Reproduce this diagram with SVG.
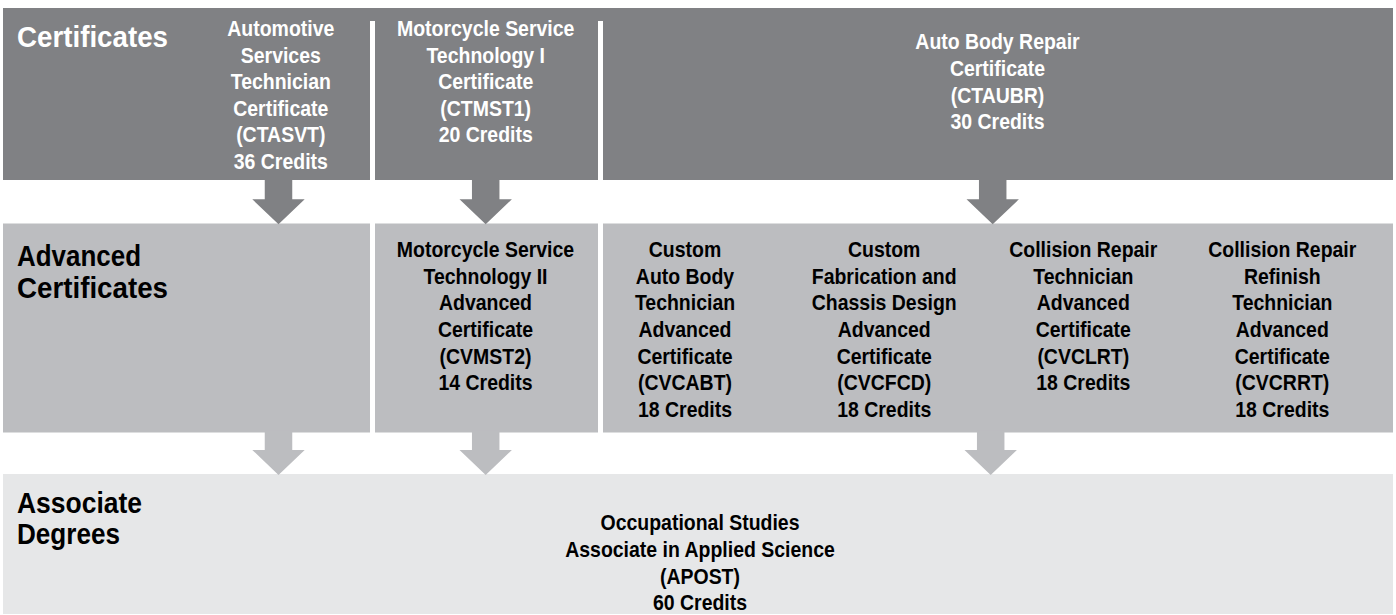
<svg xmlns="http://www.w3.org/2000/svg" xmlns:xlink="http://www.w3.org/1999/xlink" width="1396" height="615" viewBox="0 0 1396 615">
<style>
.dark{fill:#808184}
.mid{fill:#bcbdc0}
.light{fill:#e6e7e8}
.sep{fill:#ffffff}
.h{font-family:"Liberation Sans",Arial,sans-serif;font-weight:bold;font-size:29px}
.n{font-family:"Liberation Sans",Arial,sans-serif;font-weight:bold;font-size:21.5px;text-anchor:middle}
.w{fill:#ffffff}
.k{fill:#000000}
</style>
<defs>
<path id="arrow" d="M-13.75,0 H13.75 V19.3 H26.2 L0,44.3 L-26.2,19.3 H-13.75 Z"/>
</defs>
<rect width="1396" height="615" fill="#ffffff"/>
<g id="bands">
<rect class="dark" x="3" y="8" width="1390" height="172"/>
<rect class="sep" x="370" y="21" width="5" height="159"/>
<rect class="sep" x="598" y="21" width="5" height="159"/>
<rect class="mid" x="3" y="223.5" width="367" height="209"/>
<rect class="mid" x="375" y="223.5" width="223" height="209"/>
<rect class="mid" x="603" y="223.5" width="790" height="209"/>
<rect class="light" x="3" y="474" width="1390" height="140"/>
</g>
<g id="headings">
<text class="h w" x="17" y="47" textLength="151" lengthAdjust="spacingAndGlyphs">Certificates</text>
<text class="h k" x="17" y="266" textLength="124" lengthAdjust="spacingAndGlyphs">Advanced</text>
<text class="h k" x="17" y="298" textLength="151" lengthAdjust="spacingAndGlyphs">Certificates</text>
<text class="h k" x="17" y="513" textLength="125" lengthAdjust="spacingAndGlyphs">Associate</text>
<text class="h k" x="17" y="544" textLength="103" lengthAdjust="spacingAndGlyphs">Degrees</text>
</g>
<g id="connectors">
<use xlink:href="#arrow" class="dark" x="278.5" y="180"/>
<use xlink:href="#arrow" class="dark" x="485.7" y="180"/>
<use xlink:href="#arrow" class="dark" x="992.7" y="180"/>
<use xlink:href="#arrow" class="mid" x="278.5" y="430.7"/>
<use xlink:href="#arrow" class="mid" x="485.7" y="430.7"/>
<use xlink:href="#arrow" class="mid" x="990.7" y="430.7"/>
</g>
<g id="ctasvt">
<text class="n w" transform="translate(280.8,0) scale(0.905,1)"><tspan x="0" y="36">Automotive</tspan><tspan x="0" y="62.6">Services</tspan><tspan x="0" y="89.2">Technician</tspan><tspan x="0" y="115.8">Certificate</tspan><tspan x="0" y="142.4">(CTASVT)</tspan><tspan x="0" y="169">36 Credits</tspan></text>
</g>
<g id="ctmst1">
<text class="n w" transform="translate(485.7,0) scale(0.905,1)"><tspan x="0" y="36">Motorcycle Service</tspan><tspan x="0" y="62.6">Technology I</tspan><tspan x="0" y="89.2">Certificate</tspan><tspan x="0" y="115.8">(CTMST1)</tspan><tspan x="0" y="142.4">20 Credits</tspan></text>
</g>
<g id="ctaubr">
<text class="n w" transform="translate(997.5,0) scale(0.905,1)"><tspan x="0" y="49.5">Auto Body Repair</tspan><tspan x="0" y="76.1">Certificate</tspan><tspan x="0" y="102.7">(CTAUBR)</tspan><tspan x="0" y="129.3">30 Credits</tspan></text>
</g>
<g id="cvmst2">
<text class="n k" transform="translate(485.5,0) scale(0.905,1)"><tspan x="0" y="257.3">Motorcycle Service</tspan><tspan x="0" y="283.9">Technology II</tspan><tspan x="0" y="310.5">Advanced</tspan><tspan x="0" y="337.1">Certificate</tspan><tspan x="0" y="363.7">(CVMST2)</tspan><tspan x="0" y="390.3">14 Credits</tspan></text>
</g>
<g id="cvcabt">
<text class="n k" transform="translate(685,0) scale(0.905,1)"><tspan x="0" y="257.3">Custom</tspan><tspan x="0" y="283.9">Auto Body</tspan><tspan x="0" y="310.5">Technician</tspan><tspan x="0" y="337.1">Advanced</tspan><tspan x="0" y="363.7">Certificate</tspan><tspan x="0" y="390.3">(CVCABT)</tspan><tspan x="0" y="416.9">18 Credits</tspan></text>
</g>
<g id="cvcfcd">
<text class="n k" transform="translate(884.2,0) scale(0.905,1)"><tspan x="0" y="257.3">Custom</tspan><tspan x="0" y="283.9">Fabrication and</tspan><tspan x="0" y="310.5">Chassis Design</tspan><tspan x="0" y="337.1">Advanced</tspan><tspan x="0" y="363.7">Certificate</tspan><tspan x="0" y="390.3">(CVCFCD)</tspan><tspan x="0" y="416.9">18 Credits</tspan></text>
</g>
<g id="cvclrt">
<text class="n k" transform="translate(1083.3,0) scale(0.905,1)"><tspan x="0" y="257.3">Collision Repair</tspan><tspan x="0" y="283.9">Technician</tspan><tspan x="0" y="310.5">Advanced</tspan><tspan x="0" y="337.1">Certificate</tspan><tspan x="0" y="363.7">(CVCLRT)</tspan><tspan x="0" y="390.3">18 Credits</tspan></text>
</g>
<g id="cvcrrt">
<text class="n k" transform="translate(1282.3,0) scale(0.905,1)"><tspan x="0" y="257.3">Collision Repair</tspan><tspan x="0" y="283.9">Refinish</tspan><tspan x="0" y="310.5">Technician</tspan><tspan x="0" y="337.1">Advanced</tspan><tspan x="0" y="363.7">Certificate</tspan><tspan x="0" y="390.3">(CVCRRT)</tspan><tspan x="0" y="416.9">18 Credits</tspan></text>
</g>
<g id="apost">
<text class="n k" transform="translate(700,0) scale(0.905,1)"><tspan x="0" y="530.5">Occupational Studies</tspan><tspan x="0" y="557.1">Associate in Applied Science</tspan><tspan x="0" y="583.7">(APOST)</tspan><tspan x="0" y="610.3">60 Credits</tspan></text>
</g>
</svg>
